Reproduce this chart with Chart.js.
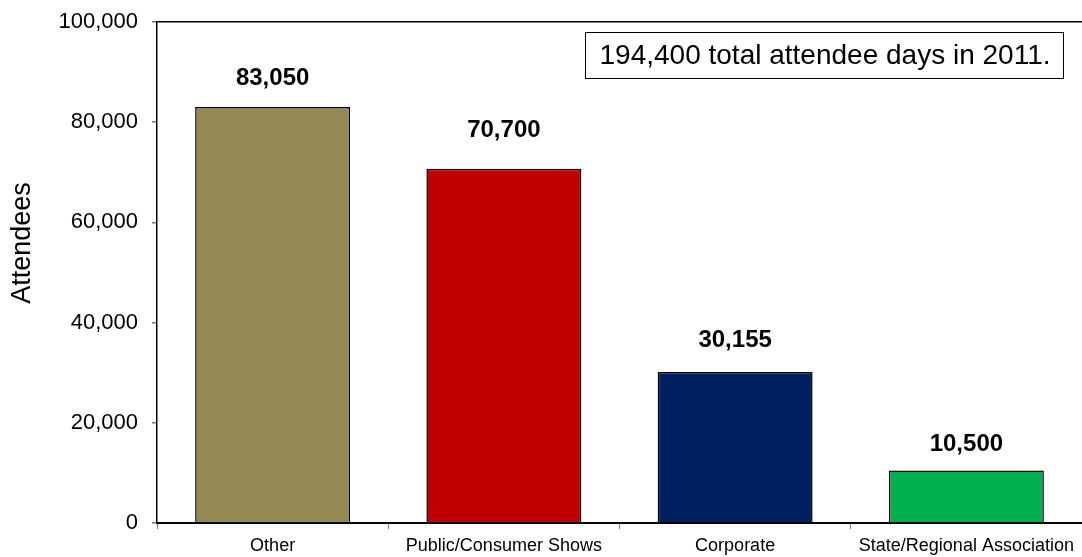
<!DOCTYPE html>
<html>
<head>
<meta charset="utf-8">
<script src="https://cdn.jsdelivr.net/npm/chart.js@4"></script>
<style>
  html, body { margin: 0; padding: 0; background: #fff; }
  #wrap { width: 1082px; height: 557px; position: relative; }
</style>
</head>
<body>
<div id="wrap"><canvas id="asistentesChart"></canvas></div>
<script>
// Datos del gráfico
const categorias = ['Other', 'Public/Consumer Shows', 'Corporate', 'State/Regional Association'];
const asistentes = [83050, 70700, 30155, 10500];
const coloresBarras = ['#948A54', '#C00000', '#002060', '#00B050'];
const ticksY = [0, 20000, 40000, 60000, 80000, 100000];
const notaTotal = '194,400 total attendee days in 2011.';
const tituloY = 'Attendees';

const fuente = '"Liberation Sans", Arial, sans-serif';

// Etiquetas de valor encima de cada barra
const etiquetasPlugin = {
    id: 'etiquetas',
    afterDatasetsDraw(chart, args, opts) {
        const ctx = chart.ctx;
        const meta = chart.getDatasetMeta(0);
        ctx.save();
        ctx.font = 'bold 24px ' + fuente;
        ctx.fillStyle = '#000';
        ctx.textAlign = 'center';
        ctx.textBaseline = 'middle';
        meta.data.forEach((bar, i) => {
            const lift = opts.lift[i] || 30;
            ctx.fillText(asistentes[i].toLocaleString('en-US'), bar.x, bar.y - lift);
        });
        ctx.restore();
    }
};

// Caja de texto y título del eje Y
const anotacionPlugin = {
    id: 'anotacion',
    afterDraw(chart) {
        const ctx = chart.ctx;
        ctx.save();
        // caja
        ctx.strokeStyle = '#000';
        ctx.lineWidth = 1;
        ctx.fillStyle = '#fff';
        ctx.fillRect(585.5, 32.5, 478, 46);
        ctx.strokeRect(585.5, 32.5, 478, 46);
        ctx.fillStyle = '#000';
        ctx.font = '28px ' + fuente;
        ctx.textAlign = 'center';
        ctx.textBaseline = 'middle';
        ctx.fillText(notaTotal, 825, 56);
        // título eje Y
        ctx.font = '27px ' + fuente;
        ctx.translate(23, 243);
        ctx.rotate(-Math.PI / 2);
        ctx.fillText(tituloY, 0, 0);
        ctx.restore();
    }
};

const ctx = document.getElementById('asistentesChart').getContext('2d');
new Chart(ctx, {
    type: 'bar',
    data: {
        labels: categorias,
        datasets: [{
            data: asistentes,
            backgroundColor: coloresBarras,
            borderColor: '#000',
            borderWidth: 1.5,
            categoryPercentage: 1,
            barPercentage: 0.67
        }]
    },
    options: {
        responsive: true,
        maintainAspectRatio: false,
        animation: false,
        layout: { padding: { top: 22, right: 0, left: 0, bottom: 0 } },
        plugins: {
            legend: { display: false },
            tooltip: { enabled: false },
            etiquetas: { lift: [29, 38, 32, 26] }
        },
        scales: {
            x: {
                grid: {
                    offset: true,
                    drawOnChartArea: false,
                    drawTicks: true,
                    tickLength: 6,
                    tickColor: '#777'
                },
                border: { color: '#000', width: 2 },
                ticks: {
                    color: '#000',
                    font: { family: fuente, size: 18, lineHeight: 1 },
                    maxRotation: 0,
                    autoSkip: false,
                    padding: 8
                },
                afterFit(scale) { scale.height = 34; }
            },
            y: {
                min: 0,
                max: 100000,
                afterBuildTicks(scale) {
                    scale.ticks = ticksY.map(v => ({ value: v }));
                },
                grid: {
                    color: c => (c.tick && c.tick.value === 100000) ? '#000' : 'transparent',
                    lineWidth: 1.5,
                    tickColor: '#777',
                    tickLength: 5
                },
                border: { color: '#000', width: 1.5 },
                ticks: {
                    color: '#000',
                    font: { family: fuente, size: 22, lineHeight: 0.6 },
                    padding: 14,
                    callback: v => v.toLocaleString('en-US')
                },
                afterFit(scale) { scale.width = 157; }
            }
        }
    },
    plugins: [etiquetasPlugin, anotacionPlugin]
});
</script>
</body>
</html>
